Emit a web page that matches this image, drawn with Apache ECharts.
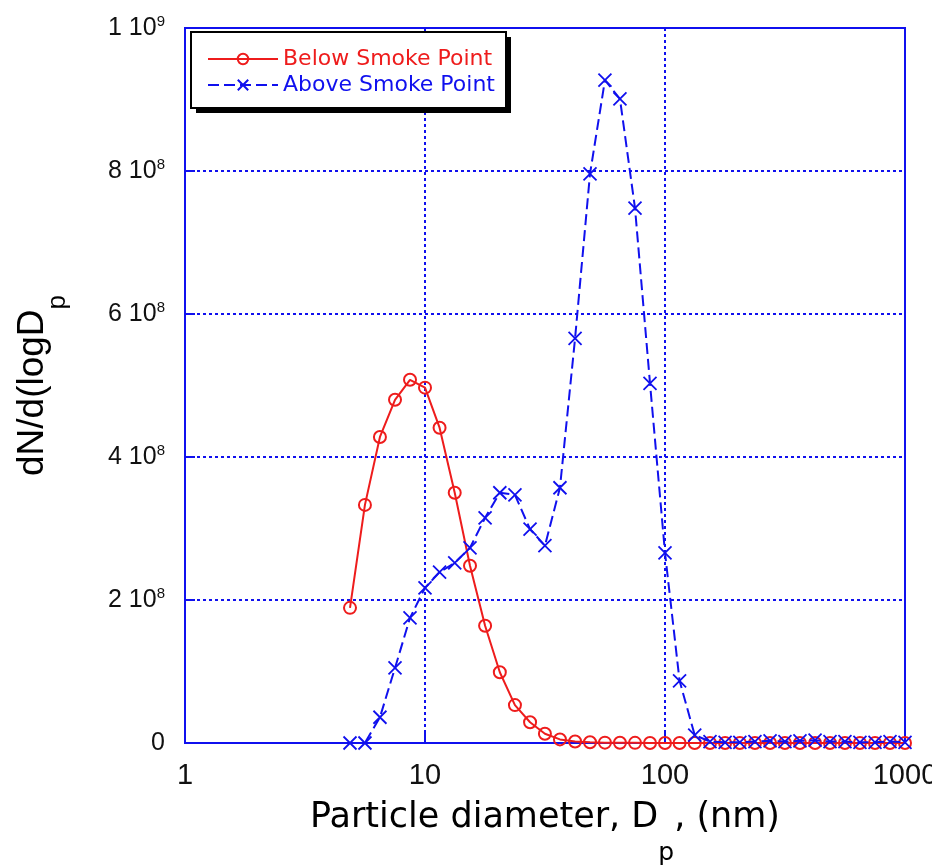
<!DOCTYPE html>
<html>
<head>
<meta charset="utf-8">
<script src="https://cdn.jsdelivr.net/npm/echarts@6/dist/echarts.min.js"></script>
<style>
  html, body { margin: 0; padding: 0; background: #fff; }
  #chart { width: 932px; height: 866px; }
</style>
</head>
<body>
<div id="chart"></div>
<script>
// Mobility diameters of the size-classifier channels (nm)
const diameters = [4.87, 5.62, 6.49, 7.50, 8.66, 10.0, 11.5, 13.3, 15.4, 17.8,
  20.5, 23.7, 27.4, 31.6, 36.5, 42.2, 48.7, 56.2, 64.9, 75.0,
  86.6, 100, 115, 133, 154, 178, 205, 237, 274, 316,
  365, 422, 487, 562, 649, 750, 866, 1000];

// dN/d(logDp), in units of 1e6
const belowSmokePoint = [189, 333, 428, 480, 508, 497, 441, 350, 248, 164,
  99, 53, 29, 13, 5, 2, 1, 0.5, 0.3, 0.2,
  0.1, 0, 0, 0, 0, 0, 0, 0, 0, 0,
  0, 0, 0, 0, 0, 0, 0, 0];
const aboveSmokePoint = [0, 0, 36, 105, 175, 217, 239, 252, 273, 315,
  350, 347, 299, 276, 357, 566, 796, 927, 901, 748,
  503, 266, 87, 11, 2, 1, 1, 2, 3, 2,
  3, 4, 2, 2, 1, 1, 2, 1];

const seriesNames = ['Below Smoke Point', 'Above Smoke Point'];
const xTicks = [1, 10, 100, 1000];
const yMax = 1e9, yStep = 2e8;

const UNIT = 1e6;
const pairs = (vals) => diameters.map((d, i) => [d, vals[i] * UNIT]);

const BLUE = '#1010ee';
const RED = '#ee1c1c';
const SANS = 'Liberation Sans, Arial, sans-serif';
const WIDE = 'DejaVu Sans, Verdana, sans-serif';

const chart = echarts.init(document.getElementById('chart'), null, { renderer: 'canvas' });

chart.setOption({
  backgroundColor: '#fff',
  animation: false,
  grid: {
    left: 185, right: 27, top: 28, bottom: 123,
    outerBoundsMode: 'none',
    show: true, borderColor: BLUE, borderWidth: 2, backgroundColor: 'transparent'
  },
  // legend frame with a solid drop shadow
  graphic: [
    { type: 'rect', left: 196, top: 37, z: 50, shape: { width: 315, height: 76 },
      style: { fill: '#000' } },
    { type: 'rect', left: 190, top: 31, z: 51, shape: { width: 315, height: 76 },
      style: { fill: '#fff', stroke: '#000', lineWidth: 2 } }
  ],
  legend: {
    orient: 'vertical',
    left: 190, top: 31,
    padding: [17, 10, 10, 17],
    itemGap: 4,
    itemWidth: 70, itemHeight: 13,
    z: 60,
    textStyle: { fontFamily: WIDE, fontSize: 22 },
    data: [
      { name: seriesNames[0], textStyle: { color: RED } },
      { name: seriesNames[1], textStyle: { color: BLUE } }
    ]
  },
  xAxis: {
    type: 'log', logBase: 10, min: 1, max: 1000,
    name: 'Particle diameter, D{sub|p}, (nm)',
    nameLocation: 'middle', nameGap: 27, nameMoveOverlap: false,
    nameTextStyle: {
      fontFamily: WIDE, fontSize: 35, color: '#000', lineHeight: 96,
      rich: {
        sub: { fontFamily: WIDE, fontSize: 25, color: '#000', verticalAlign: 'bottom', lineHeight: 10 }
      }
    },
    axisLine: { show: true, lineStyle: { color: BLUE, width: 2 } },
    axisTick: { show: true, inside: true, length: 10, lineStyle: { color: BLUE, width: 2 } },
    minorTick: { show: false },
    axisLabel: {
      margin: 18, fontFamily: SANS, fontSize: 29, color: '#111',
      formatter: (v) => xTicks.includes(Math.round(v)) ? String(Math.round(v)) : ''
    },
    splitLine: { show: true, showMinLine: false, showMaxLine: false,
      lineStyle: { color: BLUE, type: [3, 3], width: 2 } }
  },
  yAxis: {
    type: 'value', min: 0, max: yMax, interval: yStep,
    name: 'dN/d(logD{sub|p}',
    nameLocation: 'middle', nameGap: 114, nameMoveOverlap: false,
    nameTextStyle: {
      fontFamily: SANS, fontSize: 37, color: '#000', lineHeight: 76,
      rich: {
        sub: { fontFamily: SANS, fontSize: 26, color: '#000', verticalAlign: 'bottom', lineHeight: 10 }
      }
    },
    axisLine: { show: true, lineStyle: { color: BLUE, width: 2 } },
    axisTick: { show: true, inside: true, length: 10, lineStyle: { color: BLUE, width: 2 } },
    axisLabel: {
      margin: 20, fontFamily: SANS, fontSize: 25, color: '#111', lineHeight: 28,
      formatter: (v) => {
        if (v === 0) return '0';
        const e = Math.floor(Math.log10(v) + 1e-9);
        const m = Math.round(v / Math.pow(10, e));
        return m + ' 10{sup|' + e + '}';
      },
      rich: {
        sup: { fontFamily: SANS, fontSize: 15, color: '#111', verticalAlign: 'top', lineHeight: 14 }
      }
    },
    splitLine: { show: true, showMinLine: false, showMaxLine: false,
      lineStyle: { color: BLUE, type: [3, 3], width: 2 } }
  },
  series: [
    {
      name: seriesNames[0],
      type: 'line',
      data: pairs(belowSmokePoint),
      symbol: 'circle', symbolSize: 12,
      itemStyle: { color: 'transparent', borderColor: RED, borderWidth: 2 },
      lineStyle: { color: RED, width: 2 },
      z: 3
    },
    {
      name: seriesNames[1],
      type: 'line',
      data: pairs(aboveSmokePoint),
      symbol: 'path://M0,0L10,10M10,0L0,10', symbolSize: 13,
      itemStyle: { color: 'transparent', borderColor: BLUE, borderWidth: 1.8 },
      lineStyle: { color: BLUE, width: 2, type: [11, 5] },
      z: 4
    }
  ]
});
</script>
</body>
</html>
